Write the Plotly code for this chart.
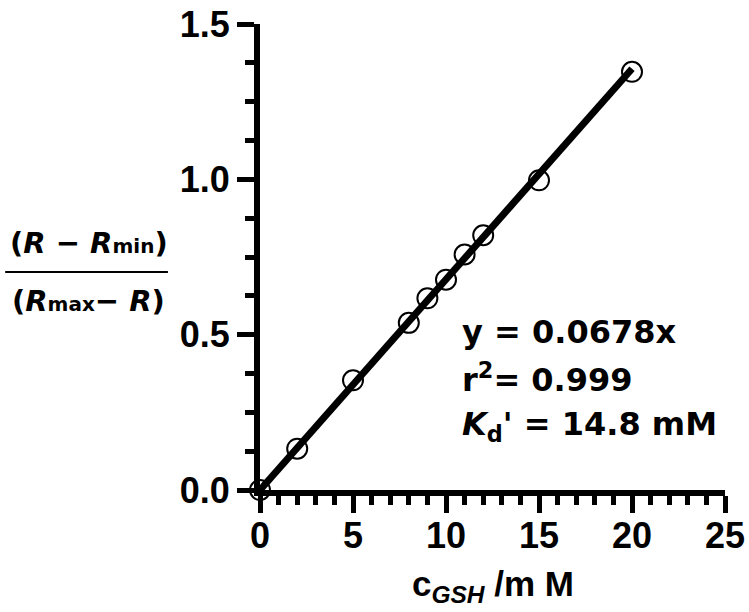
import plotly.graph_objects as go

# data
c_gsh = [0, 2, 5, 8, 9, 10, 11, 12, 15, 20]
ratio = [0.0, 0.133, 0.353, 0.538, 0.617, 0.677, 0.758, 0.82, 0.997, 1.346]
fit_x = [0, 20]
fit_y = [0.0, 1.356]
x_ticks = [0, 5, 10, 15, 20, 25]
y_ticks = [0.0, 0.5, 1.0, 1.5]
y_tick_text = ["0.0", "0.5", "1.0", "1.5"]

ARIAL = "Liberation Sans, Arial, Helvetica, sans-serif"
WIDE = "DejaVu Sans, Verdana, sans-serif"

fig = go.Figure()
fig.add_trace(go.Scatter(x=fit_x, y=fit_y, mode="lines",
                         line=dict(color="black", width=7),
                         cliponaxis=False, showlegend=False, hoverinfo="skip"))
fig.add_trace(go.Scatter(x=c_gsh, y=ratio, mode="markers",
                         marker=dict(symbol="circle-open", size=20, color="black",
                                     line=dict(width=2, color="black")),
                         cliponaxis=False, showlegend=False))

axis_common = dict(showline=True, linewidth=6, linecolor="black",
                   ticks="outside", ticklen=17, tickwidth=5, tickcolor="black",
                   showgrid=False, zeroline=False, automargin=False,
                   ticklabeloverflow="allow",
                   tickfont=dict(family=ARIAL, size=36, color="black", weight="bold"))

fig.update_xaxes(range=[0, 25], tickvals=x_ticks, ticktext=[str(v) for v in x_ticks],
                 minor=dict(ticks="outside", dtick=1, tick0=0, ticklen=9, tickwidth=5,
                            tickcolor="black", showgrid=False),
                 ticklabelstandoff=-8,
                 **axis_common)
fig.update_yaxes(range=[0, 1.5], tickvals=y_ticks, ticktext=y_tick_text,
                 minor=dict(ticks="outside", dtick=0.125, tick0=0, ticklen=9, tickwidth=5,
                            tickcolor="black", showgrid=False),
                 **axis_common)

ann_font = dict(family=WIDE, size=32, color="black", weight="bold")
fig.add_annotation(x=10.75, y=0.51, xref="x", yref="y", xanchor="left", yanchor="middle",
                   text="y = 0.0678x", showarrow=False, font=ann_font)
fig.add_annotation(x=10.75, y=0.36, xref="x", yref="y", xanchor="left", yanchor="middle",
                   text="r<sup>2</sup>= 0.999", showarrow=False, font=ann_font)
fig.add_annotation(x=10.75, y=0.205, xref="x", yref="y", xanchor="left", yanchor="middle",
                   text="<i>K</i><sub>d</sub>' = 14.8 mM", showarrow=False, font=ann_font)

# x-axis title
fig.add_annotation(x=0.5, y=-0.207, xref="paper", yref="paper", xanchor="center", yanchor="middle",
                   text="c<sub><i>GSH</i></sub> /m M", showarrow=False,
                   font=dict(family=ARIAL, size=35, color="black", weight="bold"))

# y-axis title as a fraction
title_font = dict(family=WIDE, size=29, color="black", weight="bold")
fig.add_annotation(x=-0.368, y=0.53, xref="paper", yref="paper", xanchor="center", yanchor="middle",
                   text="(<i>R</i> − <i>R</i><span style='font-size:20px'>min</span>)",
                   showarrow=False, font=title_font)
fig.add_annotation(x=-0.368, y=0.405, xref="paper", yref="paper", xanchor="center", yanchor="middle",
                   text="(<i>R</i><span style='font-size:20px'>max</span>− <i>R</i>)",
                   showarrow=False, font=title_font)
fig.add_shape(type="line", xref="paper", yref="paper", x0=-0.548, x1=-0.198, y0=0.468, y1=0.468,
              line=dict(color="black", width=2))

fig.update_layout(width=749, height=612, plot_bgcolor="white", paper_bgcolor="white",
                  margin=dict(l=260, r=24, t=24, b=122), showlegend=False)

fig.write_html("out.html", config={"displayModeBar": False},
               post_script="document.body.style.margin='0';document.body.style.overflow='hidden';")
